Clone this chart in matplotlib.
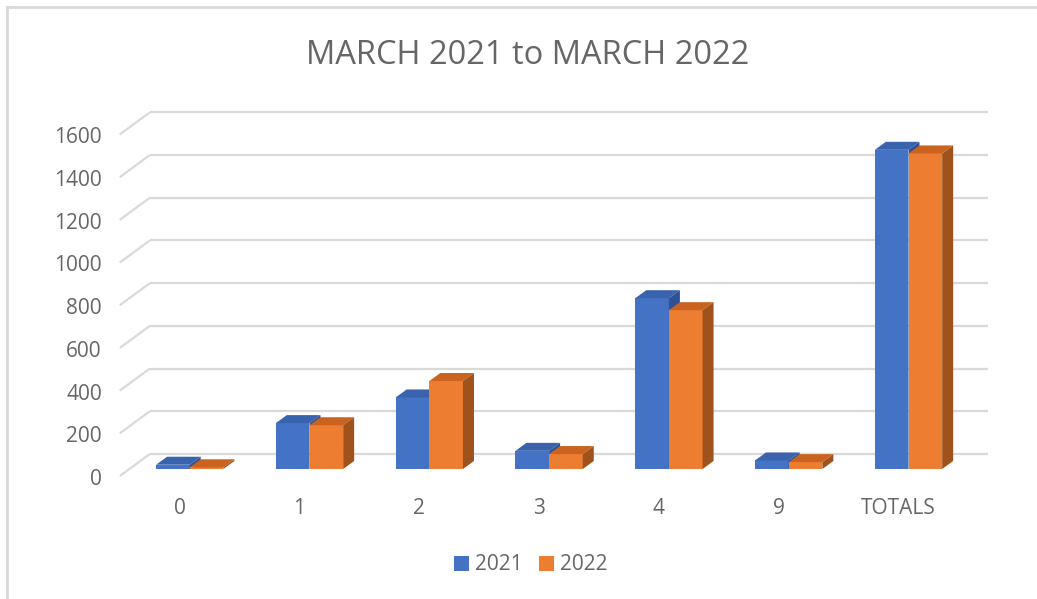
import matplotlib
matplotlib.use("Agg")
import matplotlib.pyplot as plt
from matplotlib.patches import Polygon, Patch
from matplotlib.lines import Line2D

plt.rcParams["font.family"] = ["Open Sans", "DejaVu Sans"]

# data
categories = ["0", "1", "2", "3", "4", "9", "TOTALS"]
values_2021 = [20, 215, 335, 85, 800, 40, 1495]
values_2022 = [8, 205, 412, 70, 744, 32, 1478]
series_names = ["2021", "2022"]
y_ticks = [0, 200, 400, 600, 800, 1000, 1200, 1400, 1600]

front_colors = ["#4472C4", "#ED7D31"]
top_colors = ["#3A63AE", "#C9631F"]
side_colors = ["#2F5294", "#A0521D"]
text_color = "#666666"
grid_color = "#D9D9D9"

W, H = 1037, 599
fig = plt.figure(figsize=(W / 100, H / 100), dpi=100)

# axes laid out on the bar plane; 3d depth is faked with pixel offsets
xlim = (-0.75, 6.7)
ylim = (-60, 1700)
ax_left, ax_right = 99.85, 992.36
ax_top, ax_bottom = 106.05, 481.8
ax = fig.add_axes([ax_left / W, 1 - ax_bottom / H,
                   (ax_right - ax_left) / W, (ax_bottom - ax_top) / H])
ax.set_xlim(*xlim)
ax.set_ylim(*ylim)
ax.axis("off")

sx = (ax_right - ax_left) / (xlim[1] - xlim[0])   # px per category unit
sy = (ax_bottom - ax_top) / (ylim[1] - ylim[0])   # px per value unit


def off(dx_px, dy_px):
    # pixel offset (y down) -> data offset
    return dx_px / sx, -dy_px / sy


back_dx, back_dy = off(20, -15)
front_dx, front_dy = off(-10, 7)
depth_dx, depth_dy = off(11, -8)

# floor/back-wall gridlines
x0, x1 = -0.5, 6.5
for v in y_ticks:
    ax.plot([x0 + front_dx, x0 + back_dx], [v + front_dy, v + back_dy],
            color=grid_color, lw=1.6, solid_capstyle="butt", zorder=1, clip_on=False)
    ax.plot([x0 + back_dx, x1 + back_dx], [v + back_dy, v + back_dy],
            color=grid_color, lw=1.6, solid_capstyle="butt", zorder=1, clip_on=False)
    ax.text(x0 + front_dx - 18 / sx, v + front_dy - 9 / sy, f"{v}",
            ha="right", va="baseline", fontsize=15, color=text_color)

# bars with top and side faces
bar_w = 0.281
z = 2
for i, cat in enumerate(categories):
    for k, vals in enumerate([values_2021, values_2022]):
        v = vals[i]
        left = i - bar_w if k == 0 else i
        right = left + bar_w
        ax.bar(left, v, width=bar_w, align="edge", color=front_colors[k],
               linewidth=0, zorder=z)
        top = Polygon([(left, v), (right, v), (right + depth_dx, v + depth_dy),
                       (left + depth_dx, v + depth_dy)],
                      closed=True, facecolor=top_colors[k], edgecolor="none", zorder=z)
        side = Polygon([(right, 0), (right + depth_dx, depth_dy),
                        (right + depth_dx, v + depth_dy), (right, v)],
                       closed=True, facecolor=side_colors[k], edgecolor="none", zorder=z)
        ax.add_patch(top)
        ax.add_patch(side)
        z += 1
    ax.text(i + front_dx, -213, cat, ha="center", va="baseline",
            fontsize=15, color=text_color)

fig.text(527.5 / W, 1 - 64 / H, "MARCH 2021 to MARCH 2022", ha="center",
         va="baseline", fontsize=23.5, color=text_color)

handles = [Patch(facecolor=c, edgecolor="none") for c in front_colors]
fig.legend(handles, series_names, loc="center", bbox_to_anchor=(531 / W, 1 - 565 / H),
           ncol=2, frameon=False, fontsize=15, handlelength=0.7, handleheight=0.7,
           handletextpad=0.3, columnspacing=0.8, labelcolor=text_color)

# chart border (top and left edges visible)
fig.add_artist(Line2D([7 / W, 7 / W], [0, 1 - 7 / H], color="#D9D9D9", lw=2,
                      transform=fig.transFigure))
fig.add_artist(Line2D([7 / W, 1], [1 - 7 / H, 1 - 7 / H], color="#D9D9D9", lw=2,
                      transform=fig.transFigure))

fig.savefig("out.png", dpi=100)
